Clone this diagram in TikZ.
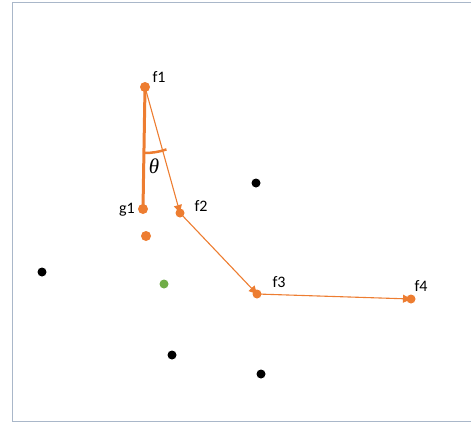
\documentclass[tikz,border=0pt]{standalone}
\usepackage{fontspec}
\setmainfont{Carlito}
\newfontfamily\thfont{Liberation Serif}
\usetikzlibrary{arrows.meta,calc}
\definecolor{org}{HTML}{ED7D31}
\definecolor{frm}{HTML}{A9B7C9}
\definecolor{grn}{HTML}{70AD47}
\begin{document}
\begin{tikzpicture}[x=1pt,y=-1pt,
  odot/.style={circle,fill=org,inner sep=0pt,minimum size=10pt},
  kdot/.style={circle,fill=black,inner sep=0pt,minimum size=9pt},
  gdot/.style={circle,fill=grn,inner sep=0pt,minimum size=9pt},
  lbl/.style={font=\fontsize{16}{18}\selectfont,inner sep=0pt},
  conn/.style={org,line width=1.1pt,-{Triangle[length=8pt,width=8pt]}}]
\useasboundingbox (0,0) rectangle (471,423);
\draw[frm,line width=1pt] (471,2.5) -- (12.5,2.5) -- (12.5,421) -- (471,421);
\node[odot] (f1) at (145,87) {};
\node[odot] (g1) at (143,209) {};
\node[coordinate] (f2) at (180,213) {};
\node[odot] (x1) at (146,236) {};
\node[gdot] (gr) at (164,284) {};
\node[coordinate] (f3) at (257,294) {};
\node[coordinate] (f4) at (411,299) {};
\node[kdot] (b1) at (256,183) {};
\node[kdot] (b2) at (42,272) {};
\node[kdot] (b3) at (172,355) {};
\node[kdot] (b4) at (261,374) {};
\node[lbl] (lf1) at (159,77) {f1};
\node[lbl] (lg1) at (127,210) {g1};
\node[lbl] (lf2) at (201,206) {f2};
\node[lbl] (lf3) at (279,282) {f3};
\node[lbl] (lf4) at (421,286) {f4};
\node[inner sep=0pt,font=\thfont\itshape\fontsize{21}{23}\selectfont] (th) at (154,166) {θ};
\draw[org,line width=3pt] (f1.center) -- (g1.center);
\draw[conn] (f1.center) -- (f2);
\draw[conn] (f2) -- (f3);
\draw[conn] (f3) -- (f4);
\fill[org] (f2) circle (4.5pt);
\fill[org] (f3) circle (4.5pt);
\fill[org] (f4) circle (4.5pt);
\draw[org,line width=2.5pt] ($(f1)!66pt!(g1)$) arc[start angle=-90.9,end angle=-71,radius=66pt];
\end{tikzpicture}
\end{document}
